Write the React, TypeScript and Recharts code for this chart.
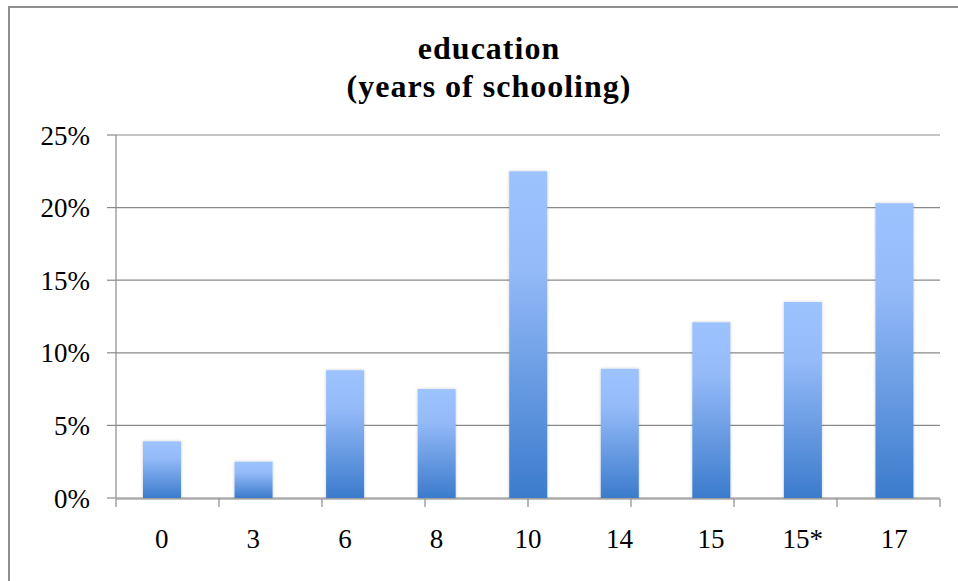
import { BarChart, Bar, XAxis, YAxis, CartesianGrid } from "recharts";

const years = ["0", "3", "6", "8", "10", "14", "15", "15*", "17"];
const shares = [3.9, 2.5, 8.8, 7.5, 22.5, 8.9, 12.1, 13.5, 20.3];
const percentTicks = [0, 5, 10, 15, 20, 25];
const edgeTicks = [0, 1, 2, 3, 4, 5, 6, 7, 8, 9];

const chartData = years.map((year, i) => ({ year, share: shares[i] }));

const FONT = '"Liberation Serif", "Times New Roman", serif';
const GRID = "#8a8a8a";

const GradientBar = (props: any) => {
  const { x, y, width, height } = props;
  if (!height || height <= 0) return null;
  return (
    <rect
      x={x}
      y={y}
      width={width}
      height={height}
      fill="url(#barGrad)"
      filter="url(#barShadow)"
    />
  );
};

export default function App() {
  return (
    <div
      style={{
        position: "absolute",
        left: 0,
        top: 0,
        width: 958,
        height: 581,
        overflow: "hidden",
        background: "#fff",
      }}
    >
      {/* chart frame, only the top and left edges fall inside the view */}
      <div
        style={{
          position: "absolute",
          left: 8,
          top: 6,
          width: 1000,
          height: 1000,
          border: "2px solid #8e8e8e",
        }}
      />
      <div
        style={{
          position: "absolute",
          left: 9,
          top: 29,
          width: 960,
          textAlign: "center",
          fontFamily: FONT,
          fontWeight: "bold",
          fontSize: 32,
          letterSpacing: 1,
          lineHeight: "38px",
          color: "#000",
        }}
      >
        education
        <br />
        (years of schooling)
      </div>
      <div style={{ position: "absolute", left: 0, top: 0 }}>
        <BarChart
          width={958}
          height={581}
          data={chartData}
          margin={{ top: 135, right: 18, bottom: 81, left: 0 }}
        >
          <defs>
            <linearGradient id="barGrad" x1="0" y1="0" x2="0" y2="1">
              <stop offset="0%" stopColor="#9dc3ff" />
              <stop offset="30%" stopColor="#94baf8" />
              <stop offset="100%" stopColor="#3b7bcc" />
            </linearGradient>
            <filter id="barShadow" x="-20%" y="-5%" width="140%" height="110%">
              <feDropShadow dx="0" dy="0" stdDeviation="1.5" floodColor="#000" floodOpacity="0.22" />
            </filter>
          </defs>
          <CartesianGrid vertical={false} stroke={GRID} strokeWidth={1.2} />
          <YAxis
            domain={[0, 25]}
            ticks={percentTicks}
            tickFormatter={(v) => `${v}%`}
            width={116}
            tickSize={9}
            tickMargin={17}
            stroke={GRID}
            strokeWidth={1.2}
            tick={{ fill: "#000", fontSize: 27, fontFamily: FONT }}
          />
          {/* category boundary ticks along the baseline */}
          <XAxis
            xAxisId="edge"
            type="number"
            domain={[0, 9]}
            ticks={edgeTicks}
            height={1}
            tickSize={8}
            tickFormatter={() => ""}
            stroke={GRID}
            strokeWidth={1.2}
            allowDataOverflow
          />
          <XAxis
            xAxisId="cat"
            dataKey="year"
            height={1}
            tickLine={false}
            axisLine={false}
            tickSize={0}
            tickMargin={31}
            interval={0}
            tick={{ fill: "#000", fontSize: 27, fontFamily: FONT }}
          />
          <Bar
            xAxisId="cat"
            dataKey="share"
            barSize={38}
            shape={GradientBar}
            isAnimationActive={false}
          />
        </BarChart>
      </div>
    </div>
  );
}
